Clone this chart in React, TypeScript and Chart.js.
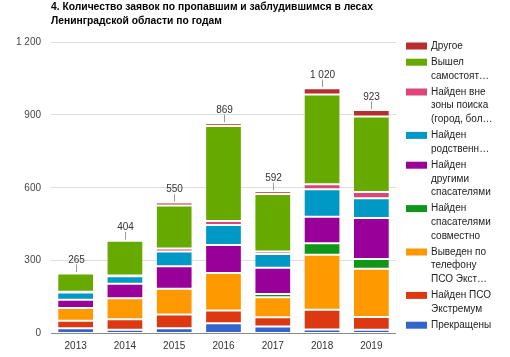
import React, { useEffect, useRef } from "react";
import { Chart, registerables } from "chart.js";
Chart.register(...registerables);

const years = ["2013", "2014", "2015", "2016", "2017", "2018", "2019"];
const totals = [265, 404, 550, 869, 592, 1020, 923];
const yMax = 1200;
const yStep = 300;

const titleLines = [
  "4. Количество заявок по пропавшим и заблудившимся в лесах",
  "Ленинградской области по годам",
];

// series, bottom to top of the stack
const stopped = [22, 15, 22, 42, 29, 16, 15];
const foundByPSO = [30, 44, 56, 53, 38, 82, 53];
const ledByPhone = [53, 86, 106, 154, 82, 226, 199];
const foundJointly = [0, 0, 0, 0, 14, 48, 40];
const foundByOthers = [34, 60, 93, 115, 108, 109, 168];
const foundByRelatives = [30, 31, 61, 83, 56, 113, 82];
const foundOutside = [3, 3, 12, 16, 11, 20, 26];
const cameOut = [75, 143, 177, 391, 236, 370, 310];
const other = [2, 1, 12, 12, 12, 26, 27];

const seriesValues = [
  stopped,
  foundByPSO,
  ledByPhone,
  foundJointly,
  foundByOthers,
  foundByRelatives,
  foundOutside,
  cameOut,
  other,
];

const legendLines = [
  ["Прекращены"],
  ["Найден ПСО", "Экстремум"],
  ["Выведен по", "телефону", "ПСО Экст…"],
  ["Найден", "спасателями", "совместно"],
  ["Найден", "другими", "спасателями"],
  ["Найден", "родственн…"],
  ["Найден вне", "зоны поиска", "(город, бол…"],
  ["Вышел", "самостоят…"],
  ["Другое"],
];

const seriesColors = [
  "#3366cc",
  "#dc3912",
  "#ff9900",
  "#109618",
  "#990099",
  "#0099c6",
  "#dd4477",
  "#66aa00",
  "#b82e2e",
];

const FONT = "'Liberation Sans', Arial, sans-serif";

function fmt(v: number): string {
  return String(v).replace(/\B(?=(\d{3})+(?!\d))/g, " ");
}

const titlePlugin = {
  id: "customTitle",
  afterDraw(chart: any) {
    const ctx = chart.ctx;
    ctx.save();
    ctx.font = "bold 10.3px " + FONT;
    ctx.fillStyle = "#000";
    ctx.textAlign = "left";
    ctx.textBaseline = "middle";
    titleLines.forEach((t, i) => {
      ctx.fillText(t, chart.chartArea.left, 7 + i * 14);
    });
    ctx.restore();
  },
};

const totalsPlugin = {
  id: "totals",
  afterDatasetsDraw(chart: any) {
    const ctx = chart.ctx;
    const xs = chart.scales.x;
    const ys = chart.scales.y;
    ctx.save();
    ctx.font = "10px " + FONT;
    ctx.fillStyle = "#333";
    ctx.textAlign = "center";
    ctx.textBaseline = "middle";
    ctx.strokeStyle = "#999";
    ctx.lineWidth = 1;
    years.forEach((_, i) => {
      let sum = 0;
      chart.data.datasets.forEach((d: any) => (sum += d.data[i]));
      const x = Math.round(xs.getPixelForValue(i)) + 0.5;
      const y = ys.getPixelForValue(sum);
      ctx.beginPath();
      ctx.moveTo(x, y - 1);
      ctx.lineTo(x, y - 8.5);
      ctx.stroke();
      ctx.fillText(fmt(totals[i]), x, y - 13);
    });
    ctx.restore();
  },
};

const legendPlugin = {
  id: "customLegend",
  afterDraw(chart: any) {
    const ctx = chart.ctx;
    const left = chart.chartArea.right + 10;
    const lineH = 13.6;
    const gap = 2.6;
    ctx.save();
    ctx.font = "10px " + FONT;
    ctx.textAlign = "left";
    ctx.textBaseline = "middle";
    let y = 46;
    for (let k = legendLines.length - 1; k >= 0; k--) {
      const lines = legendLines[k];
      ctx.fillStyle = seriesColors[k];
      ctx.fillRect(left, y - 3.5, 21, 7);
      ctx.fillStyle = "#222";
      lines.forEach((t, j) => ctx.fillText(t, left + 25, y + j * lineH));
      y += lines.length * lineH + gap;
    }
    ctx.restore();
  },
};

export default function App() {
  const ref = useRef<HTMLCanvasElement | null>(null);
  useEffect(() => {
    if (!ref.current) return;
    const chart = new Chart(ref.current, {
      type: "bar",
      data: {
        labels: years,
        datasets: seriesValues.map((vals, k) => ({
          label: legendLines[k].join(" "),
          data: vals,
          backgroundColor: seriesColors[k],
          borderColor: "rgba(255,255,255,0.45)",
          borderWidth: 1,
          borderSkipped: false,
          categoryPercentage: 1,
          barPercentage: 0.745,
        })),
      },
      options: {
        responsive: false,
        animation: false,
        layout: { padding: { top: 42, right: 114, bottom: 0, left: 0 } },
        plugins: {
          legend: { display: false },
          tooltip: { enabled: false },
          title: { display: false },
        },
        scales: {
          x: {
            stacked: true,
            grid: { display: false, drawTicks: false },
            border: { display: false },
            ticks: { color: "#333", font: { family: FONT, size: 10 }, padding: 7 },
            afterFit: (s: any) => {
              s.height = 23.5;
            },
          },
          y: {
            stacked: true,
            min: 0,
            max: yMax,
            grid: {
              drawTicks: false,
              color: (c: any) => (c.tick && c.tick.value === 0 ? "#888" : "#ddd"),
            },
            border: { display: false },
            ticks: {
              stepSize: yStep,
              color: "#444",
              font: { family: FONT, size: 10 },
              padding: 10,
              callback: (v: any) => fmt(Number(v)),
            },
            afterFit: (s: any) => {
              s.width = 51;
            },
          },
        },
      },
      plugins: [titlePlugin, totalsPlugin, legendPlugin],
    });
    return () => chart.destroy();
  }, []);
  return (
    <div style={{ position: "fixed", left: 0, top: 0, width: 510, height: 357, background: "#fff" }}>
      <canvas ref={ref} width={510} height={357} style={{ display: "block" }} />
    </div>
  );
}
